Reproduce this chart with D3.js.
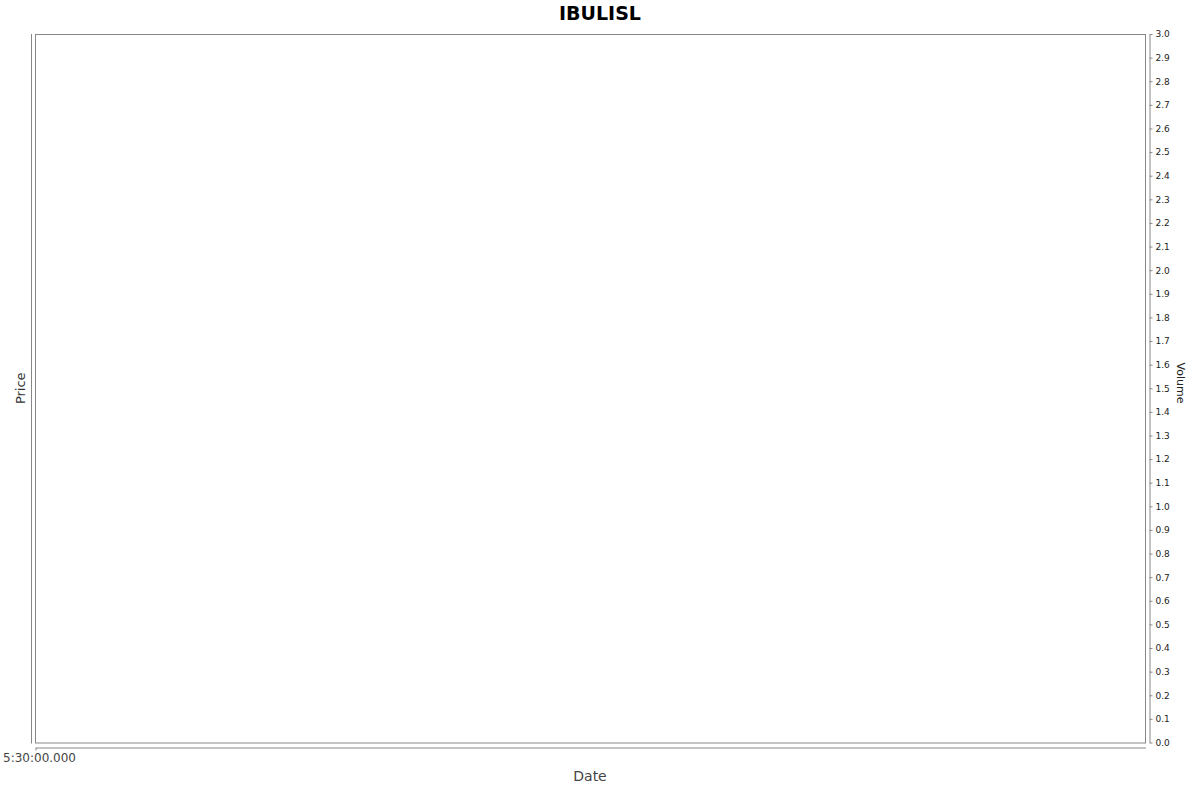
<!DOCTYPE html>
<html>
<head>
<meta charset="utf-8">
<script src="https://cdn.jsdelivr.net/npm/d3@7"></script>
<style>
  body { margin: 0; background: #fff; }
  svg { display: block; font-family: "DejaVu Sans", sans-serif; }
</style>
</head>
<body>
<div id="chart"></div>
<script>
var chartTitle = "IBULISL";
var xLabel = "Date";
var priceLabel = "Price";
var volumeLabel = "Volume";

// no price or volume records in this chart, only the axes
var priceData = [];
var volumeData = [];

var dateTicks = [0];
var dateTickLabels = ["5:30:00.000"];
var volumeTicks = [0.0, 0.1, 0.2, 0.3, 0.4, 0.5, 0.6, 0.7, 0.8, 0.9, 1.0,
                   1.1, 1.2, 1.3, 1.4, 1.5, 1.6, 1.7, 1.8, 1.9, 2.0,
                   2.1, 2.2, 2.3, 2.4, 2.5, 2.6, 2.7, 2.8, 2.9, 3.0];
var volumeDomain = [0, 3];
var dateDomain = [0, 1];

var svgWidth = 1200;
var svgHeight = 792;

var plot = { left: 35, right: 1145, top: 34, bottom: 742.5 };

var svg = d3.select("#chart")
    .append("svg")
    .attr("width", svgWidth)
    .attr("height", svgHeight);

var xScale = d3.scaleLinear()
    .domain(dateDomain)
    .range([plot.left, plot.right]);

var yVolume = d3.scaleLinear()
    .domain(volumeDomain)
    .range([plot.bottom, plot.top]);

// plot area
svg.append("rect")
    .attr("x", plot.left + 0.5)
    .attr("y", plot.top + 0.5)
    .attr("width", plot.right - plot.left)
    .attr("height", plot.bottom - plot.top)
    .attr("fill", "#fff")
    .attr("stroke", "#888")
    .attr("stroke-width", 1);

// left price axis, no ticks
svg.append("line")
    .attr("x1", 31.5)
    .attr("x2", 31.5)
    .attr("y1", plot.top)
    .attr("y2", plot.bottom + 1)
    .attr("stroke", "#888");

// bottom date axis
var bottomAxis = d3.axisBottom(xScale)
    .tickValues(dateTicks)
    .tickFormat((d, i) => dateTickLabels[i])
    .tickSize(3)
    .tickSizeOuter(0);

var xAxisGroup = svg.append("g")
    .attr("transform", "translate(0.5, 747.5)")
    .call(bottomAxis);

xAxisGroup.select(".domain").attr("stroke", "#888");
xAxisGroup.selectAll(".tick line").attr("stroke", "#888");
xAxisGroup.selectAll(".tick text")
    .attr("font-family", "DejaVu Sans")
    .attr("font-size", "12px")
    .attr("fill", "#444")
    .attr("text-anchor", "start")
    .attr("x", -33)
    .attr("y", 6);

// right volume axis
var rightAxis = d3.axisRight(yVolume)
    .tickValues(volumeTicks)
    .tickFormat(d3.format(".1f"))
    .tickSize(3)
    .tickSizeOuter(0);

var yAxisGroup = svg.append("g")
    .attr("transform", "translate(1149.5, 0)")
    .call(rightAxis);

yAxisGroup.select(".domain").attr("stroke", "#888");
yAxisGroup.selectAll(".tick line").attr("stroke", "#888");
yAxisGroup.selectAll(".tick text")
    .attr("font-family", "DejaVu Sans")
    .attr("font-size", "9px")
    .attr("fill", "#222")
    .attr("x", 6);

// title
svg.append("text")
    .attr("x", 600)
    .attr("y", 20)
    .attr("text-anchor", "middle")
    .attr("font-size", "19px")
    .attr("font-weight", "bold")
    .attr("fill", "#000")
    .text(chartTitle);

// axis labels
svg.append("text")
    .attr("x", (plot.left + plot.right) / 2)
    .attr("y", 781)
    .attr("text-anchor", "middle")
    .attr("font-size", "14px")
    .attr("fill", "#444")
    .text(xLabel);

svg.append("text")
    .attr("transform", `translate(25, ${(plot.top + plot.bottom) / 2}) rotate(-90)`)
    .attr("text-anchor", "middle")
    .attr("font-size", "13px")
    .attr("fill", "#333")
    .text(priceLabel);

svg.append("text")
    .attr("transform", "translate(1177, 383) rotate(90)")
    .attr("text-anchor", "middle")
    .attr("font-size", "11px")
    .attr("fill", "#222")
    .text(volumeLabel);
</script>
</body>
</html>
